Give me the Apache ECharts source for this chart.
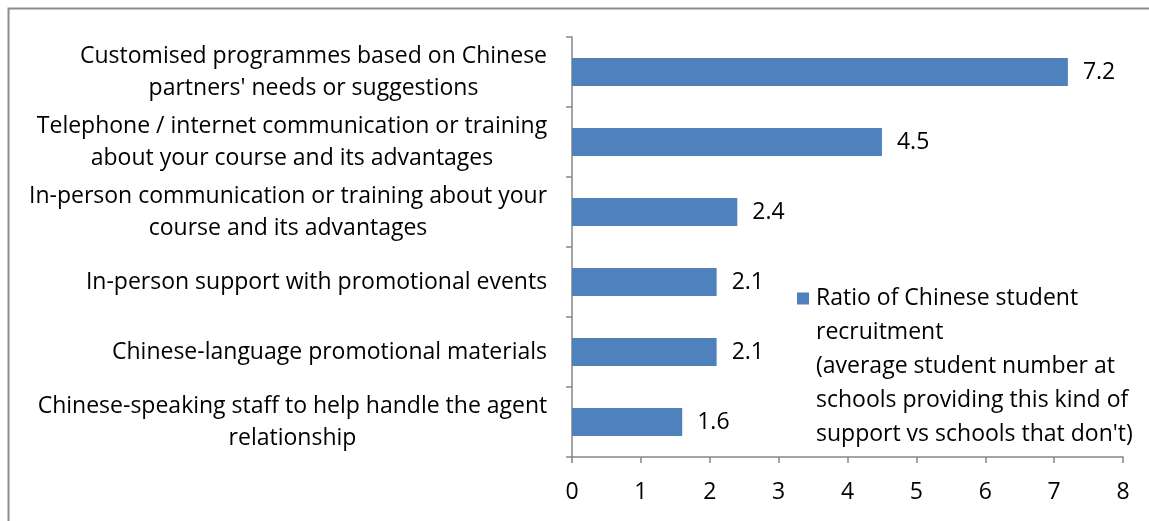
<!DOCTYPE html>
<html>
<head>
<meta charset="utf-8">
<script src="https://cdn.jsdelivr.net/npm/echarts@6/dist/echarts.min.js"></script>
<style>
  html, body { margin: 0; padding: 0; background: #fff; }
  #chart { width: 1149px; height: 521px; }
</style>
</head>
<body>
<div id="chart"></div>
<script>
// Support types, listed top to bottom; "\n" marks the line breaks of each label
const categories = [
  "Customised programmes based on Chinese\npartners' needs or suggestions",
  "Telephone / internet communication or training\nabout your course and its advantages",
  "In-person communication or training about your\ncourse and its advantages",
  "In-person support with promotional events",
  "Chinese-language promotional materials",
  "Chinese-speaking staff to help handle the agent\nrelationship"
];
// Recruitment ratio for each support type
const ratios = [7.2, 4.5, 2.4, 2.1, 2.1, 1.6];
const seriesName = "Ratio of Chinese student\nrecruitment\n(average student number at\nschools providing this kind of\nsupport vs schools that don't)";
const xTicks = [0, 1, 2, 3, 4, 5, 6, 7, 8];

const FONT = 'Open Sans';
const FS = 23;
const BAR = '#4f81bd';
const AXIS = '#868686';

// Multi-line category labels: the block is right-aligned to the axis,
// its lines are centred inside the block (width = widest line).
const ctx = document.createElement('canvas').getContext('2d');
ctx.font = FS + 'px "' + FONT + '"';
const rich = {};
categories.forEach((c, i) => {
  const w = Math.max(...c.split('\n').map(s => ctx.measureText(s).width));
  rich['c' + i] = { width: Math.ceil(w) + 1, align: 'center', fontFamily: FONT, fontSize: FS, color: '#000', lineHeight: 32 };
});

const legendRich = {
  sq: { width: 12, height: 12, backgroundColor: BAR },
  gap: { width: 7 },
  ind: { width: 19 },
  t: { fontFamily: FONT, fontSize: FS, color: '#000', lineHeight: 34 }
};

const chart = echarts.init(document.getElementById('chart'));
chart.setOption({
  animation: false,
  backgroundColor: '#fff',
  grid: { left: 572, right: 26, top: 37, bottom: 64 },
  xAxis: {
    type: 'value',
    min: xTicks[0],
    max: xTicks[xTicks.length - 1],
    interval: 1,
    splitLine: { show: false },
    axisLine: { show: true, lineStyle: { color: AXIS, width: 1.5 } },
    axisTick: { show: true, length: 6, lineStyle: { color: AXIS, width: 1.5 } },
    axisLabel: { fontFamily: FONT, fontSize: FS, color: '#000', margin: 24 }
  },
  yAxis: {
    type: 'category',
    inverse: true,
    data: categories,
    axisLine: { show: true, lineStyle: { color: AXIS, width: 1.5 } },
    axisTick: { show: true, length: 6, lineStyle: { color: AXIS, width: 1.5 } },
    axisLabel: {
      margin: 24,
      formatter: (v, i) => v.split('\n').map(s => '{c' + i + '|' + s + '}').join('\n'),
      rich: rich
    }
  },
  legend: {
    left: 787,
    top: 282,
    orient: 'vertical',
    icon: 'none',
    itemWidth: 0,
    itemHeight: 12,
    selectedMode: false,
    data: [seriesName],
    formatter: name => name.split('\n')
      .map((s, i) => (i === 0 ? '{sq|}{gap|}' : '{ind|}') + '{t|' + s + '}')
      .join('\n'),
    textStyle: { rich: legendRich }
  },
  graphic: [{
    type: 'rect',
    left: 6, top: 6,
    shape: { width: 1200, height: 600 },
    style: { fill: 'none', stroke: '#8c8c8c', lineWidth: 2 },
    silent: true
  }],
  series: [{
    name: seriesName,
    type: 'bar',
    data: ratios,
    barCategoryGap: '60%',
    itemStyle: { color: BAR },
    label: {
      show: true,
      position: 'right',
      distance: 15,
      fontFamily: FONT,
      fontSize: FS,
      color: '#000',
      formatter: p => p.value.toFixed(1)
    }
  }]
});
</script>
</body>
</html>
